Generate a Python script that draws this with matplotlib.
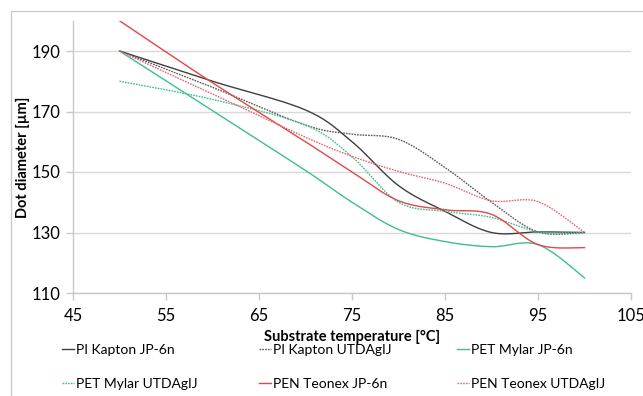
import numpy as np
import matplotlib
matplotlib.use("Agg")
import matplotlib.pyplot as plt
from matplotlib.lines import Line2D
from matplotlib.patches import Rectangle

# ---- data ----
temperature = [50, 60, 70, 75, 80, 85, 90, 95, 100]
pi_kapton_jp6n = [190, 180, 170.5, 160, 145.5, 137, 130, 130.2, 130]
pi_kapton_utd = [190, 178, 165.5, 162.5, 160.8, 151.5, 140, 130.2, 130]
pet_mylar_jp6n = [190, 170.3, 150.5, 140, 131, 127, 125.3, 126, 115]
pet_mylar_utd = [180, 174, 165.5, 155, 140, 137, 135, 130.3, 130]
pen_teonex_jp6n = [200, 179.5, 160, 150, 140.5, 137.5, 136, 126, 125]
pen_teonex_utd = [190, 175.8, 161.5, 155.2, 150.2, 146.3, 140.5, 140.2, 130]

series_names = ["PI Kapton JP-6n", "PI Kapton UTDAgIJ", "PET Mylar JP-6n",
                "PET Mylar UTDAgIJ", "PEN Teonex JP-6n", "PEN Teonex UTDAgIJ"]
x_ticks = [45, 55, 65, 75, 85, 95, 105]
y_ticks = [110, 130, 150, 170, 190]

GREEN = "#3dbf8c"
RED = "#e0474a"
RED_L = "#e8686a"
DARK = "#3f3f3f"
GREY_D = "#5a5a5a"

def smooth(xs, ys, n=30):
    """Excel-style smoothed line (cubic Bezier with Catmull-Rom tangents)."""
    p = np.column_stack([xs, ys]).astype(float)
    out = []
    for i in range(len(p) - 1):
        p0 = p[i - 1] if i > 0 else p[i]
        p1, p2 = p[i], p[i + 1]
        p3 = p[i + 2] if i + 2 < len(p) else p[i + 1]
        c1 = p1 + (p2 - p0) / 6.0
        c2 = p2 - (p3 - p1) / 6.0
        t = np.linspace(0, 1, n)[:, None]
        seg = ((1 - t) ** 3) * p1 + 3 * ((1 - t) ** 2) * t * c1 + 3 * (1 - t) * t ** 2 * c2 + t ** 3 * p2
        out.append(seg if i == 0 else seg[1:])
    s = np.vstack(out)
    return s[:, 0], s[:, 1]

plt.rcParams['font.family'] = ['Lato', 'DejaVu Sans']
FS_TICK = 12
FS_TITLE = 10.5
FS_LEG = 10

fig = plt.figure(figsize=(6.43, 3.96), dpi=100)
fig.patches.append(Rectangle((11 / 643, -0.1), 1.2, 1 - 11 / 396 + 0.1,
                             transform=fig.transFigure, fill=False,
                             edgecolor="#c8c8c8", linewidth=0.9))
ax = fig.add_axes([73 / 643, 1 - 293 / 396, (631 - 73) / 643, (293 - 20.75) / 396])

dot = (0, (1.2, 0.8))
styles = [
    (pi_kapton_jp6n, DARK, "-"),
    (pi_kapton_utd, GREY_D, dot),
    (pet_mylar_jp6n, GREEN, "-"),
    (pet_mylar_utd, GREEN, dot),
    (pen_teonex_jp6n, RED, "-"),
    (pen_teonex_utd, RED_L, dot),
]
handles = []
for (ys, c, ls), name in zip(styles, series_names):
    sx, sy = smooth(temperature, ys)
    ax.plot(sx, sy, color=c, linestyle=ls, linewidth=1.0)
    handles.append(Line2D([], [], color=c, linestyle=ls, linewidth=1.0, label=name))

ax.set_xlim(45, 105)
ax.set_ylim(110, 200)
ax.set_xticks(x_ticks)
ax.set_yticks(y_ticks)
ax.yaxis.grid(True, color="#d9d9d9", linewidth=1.0)
ax.set_axisbelow(True)
for s in ["top", "right"]:
    ax.spines[s].set_visible(False)
for s in ["left", "bottom"]:
    ax.spines[s].set_color("#c8c8c8")
    ax.spines[s].set_linewidth(1.0)
ax.tick_params(axis="both", colors="#c8c8c8", length=5, width=1.0,
               labelcolor="#000000", labelsize=FS_TICK)
ax.tick_params(axis="x", pad=6)
ax.tick_params(axis="y", pad=4)

ax.set_xlabel("Substrate temperature [°C]", fontsize=FS_TITLE, fontweight="bold", labelpad=4)
ax.set_ylabel("Dot diameter [µm]", fontsize=FS_TITLE, fontweight="bold", labelpad=1)

# legend: three columns placed like the reference (row-major entries)
col_x = [62, 259, 457]
for k in range(3):
    idx = [k, k + 3]
    fig.legend([handles[i] for i in idx], [series_names[i] for i in idx],
               ncol=1, loc="upper left",
               bbox_to_anchor=(col_x[k] / 643, 1 - 344 / 396),
               frameon=False, fontsize=FS_LEG, handlelength=0.85, handletextpad=0.15,
               labelspacing=1.6, borderaxespad=0, borderpad=0)

fig.savefig("out.png", dpi=100)
